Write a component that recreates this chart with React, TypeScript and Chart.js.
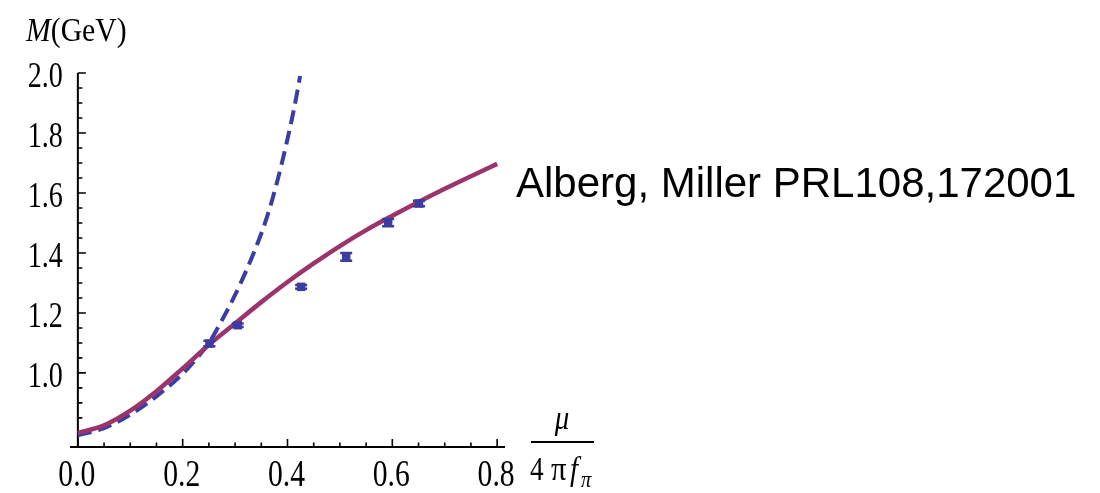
import React, { useEffect, useRef } from "react";
import { Chart, registerables } from "chart.js";

Chart.register(...registerables);

// ---- data ----
const solidX = [0, 0.05, 0.1, 0.15, 0.2, 0.25, 0.3, 0.35, 0.4, 0.45, 0.5, 0.55, 0.6, 0.65, 0.7, 0.75, 0.8];
const solidY = [0.8, 0.825, 0.874, 0.939, 1.015, 1.094, 1.165, 1.236, 1.303, 1.365, 1.423, 1.476, 1.524, 1.57, 1.614, 1.656, 1.697];

const dashX = [0, 0.05, 0.1, 0.15, 0.2, 0.225, 0.25, 0.275, 0.3, 0.325, 0.35, 0.36, 0.37, 0.38, 0.39, 0.4, 0.41, 0.42, 0.424];
const dashY = [0.792, 0.816, 0.861, 0.922, 0.997, 1.045, 1.1, 1.176, 1.26, 1.356, 1.465, 1.515, 1.572, 1.636, 1.705, 1.78, 1.86, 1.95, 1.99];

const pointsX = [0.251, 0.305, 0.426, 0.512, 0.592, 0.651];
const pointsY = [1.098, 1.159, 1.287, 1.387, 1.501, 1.565];
const pointsErr = [0.009, 0.006, 0.006, 0.013, 0.012, 0.009];

const xTickValues = [0, 0.2, 0.4, 0.6, 0.8];
const xTickLabels = ["0.0", "0.2", "0.4", "0.6", "0.8"];
const yTickValues = [1.0, 1.2, 1.4, 1.6, 1.8, 2.0];
const yTickLabels = ["1.0", "1.2", "1.4", "1.6", "1.8", "2.0"];

const annotationText = "Alberg, Miller PRL108,172001";

const X_MIN = -0.015;
const X_MAX = 0.815;
const Y_MIN = 0.753;
const Y_MAX = 2.0;

const SOLID_COLOR = "rgb(156, 52, 108)";
const BLUE = "rgb(60, 60, 162)";

function drawScaledText(
  ctx: CanvasRenderingContext2D,
  text: string,
  x: number,
  y: number,
  font: string,
  align: CanvasTextAlign,
  sx: number
) {
  ctx.save();
  ctx.translate(x, y);
  ctx.scale(sx, 1);
  ctx.font = font;
  ctx.textAlign = align;
  ctx.textBaseline = "alphabetic";
  ctx.fillStyle = "#000";
  ctx.fillText(text, 0, 0);
  ctx.restore();
}

const axesPlugin = {
  id: "mmaAxes",
  beforeDatasetsDraw(chart: any) {
    const ctx: CanvasRenderingContext2D = chart.ctx;
    const xs = chart.scales.x;
    const ys = chart.scales.y;
    const area = chart.chartArea;
    const x0 = xs.getPixelForValue(0);
    const yb = area.bottom;
    ctx.save();
    ctx.strokeStyle = "#000";
    ctx.lineWidth = 2;
    ctx.beginPath();
    ctx.moveTo(area.left, yb);
    ctx.lineTo(area.right, yb);
    ctx.moveTo(x0, yb + 1);
    ctx.lineTo(x0, ys.getPixelForValue(Y_MAX));
    ctx.stroke();

    // x ticks
    ctx.lineWidth = 1.6;
    ctx.beginPath();
    for (let i = 0; i <= 16; i++) {
      const v = i * 0.05;
      const px = xs.getPixelForValue(v);
      const major = i % 4 === 0;
      ctx.moveTo(px, yb);
      ctx.lineTo(px, yb - (major ? 8 : 4.5));
    }
    // y ticks
    for (let i = 16; i <= 40; i++) {
      const v = i * 0.05;
      const py = ys.getPixelForValue(v);
      const major = i % 4 === 0 && v >= 0.99;
      ctx.moveTo(x0, py);
      ctx.lineTo(x0 + (major ? 8 : 4.5), py);
    }
    ctx.stroke();
    ctx.restore();

    // tick labels
    xTickValues.forEach((v, i) => {
      const px = xs.getPixelForValue(v);
      drawScaledText(ctx, xTickLabels[i], px - 1, yb + 39, "38px 'Liberation Serif'", "center", 0.78);
    });
    yTickValues.forEach((v, i) => {
      const py = ys.getPixelForValue(v);
      drawScaledText(ctx, yTickLabels[i], x0 - 15, py + 14, "36px 'Liberation Serif'", "right", 0.78);
    });

    // y axis title: M(GeV)
    ctx.save();
    ctx.fillStyle = "#000";
    ctx.translate(26, 41);
    ctx.scale(0.9, 1);
    ctx.textBaseline = "alphabetic";
    ctx.textAlign = "left";
    ctx.font = "italic 33px 'Liberation Serif'";
    ctx.fillText("M", 0, 0);
    const mw = ctx.measureText("M").width;
    ctx.font = "33px 'Liberation Serif'";
    ctx.fillText("(GeV)", mw, 0);
    ctx.restore();

    // x axis title: fraction mu / (4 pi f_pi)
    ctx.save();
    ctx.fillStyle = "#000";
    ctx.textBaseline = "alphabetic";
    ctx.fillRect(531, 441, 63, 2);
    drawScaledText(ctx, "μ", 562, 429, "italic 34px 'Liberation Serif'", "center", 0.85);
    drawScaledText(ctx, "4", 530, 480, "34px 'Liberation Serif'", "left", 0.8);
    drawScaledText(ctx, "π", 551, 480, "34px 'Liberation Serif'", "left", 0.9);
    drawScaledText(ctx, "f", 570, 480, "italic 34px 'Liberation Serif'", "left", 0.85);
    drawScaledText(ctx, "π", 581, 487, "italic 24px 'Liberation Serif'", "left", 0.85);

    // annotation
    ctx.font = "42px 'Liberation Sans'";
    ctx.textAlign = "left";
    ctx.fillText(annotationText, 516, 197);
    ctx.restore();
  },
  afterDatasetsDraw(chart: any) {
    const ctx: CanvasRenderingContext2D = chart.ctx;
    const xs = chart.scales.x;
    const ys = chart.scales.y;
    ctx.save();
    ctx.strokeStyle = BLUE;
    ctx.lineWidth = 2.5;
    ctx.beginPath();
    pointsX.forEach((xv, i) => {
      const px = xs.getPixelForValue(xv);
      const pt = ys.getPixelForValue(pointsY[i] + pointsErr[i]);
      const pb = ys.getPixelForValue(pointsY[i] - pointsErr[i]);
      ctx.moveTo(px, pt);
      ctx.lineTo(px, pb);
      ctx.moveTo(px - 6, pt);
      ctx.lineTo(px + 6, pt);
      ctx.moveTo(px - 6, pb);
      ctx.lineTo(px + 6, pb);
    });
    ctx.stroke();
    ctx.restore();
  },
};

export default function App() {
  const ref = useRef<HTMLCanvasElement | null>(null);

  useEffect(() => {
    if (!ref.current) return;
    const chart = new Chart(ref.current, {
      type: "line",
      data: {
        datasets: [
          {
            label: "lattice",
            data: pointsX.map((x, i) => ({ x, y: pointsY[i] })),
            showLine: false,
            pointStyle: "rect",
            pointRadius: 6,
            backgroundColor: BLUE,
            borderColor: BLUE,
            borderWidth: 0,
            order: 0,
          } as any,
          {
            label: "model",
            data: solidX.map((x, i) => ({ x, y: solidY[i] })),
            borderColor: SOLID_COLOR,
            borderWidth: 4.5,
            pointRadius: 0,
            cubicInterpolationMode: "monotone",
            fill: false,
            order: 1,
          },
          {
            label: "chiral",
            data: dashX.map((x, i) => ({ x, y: dashY[i] })),
            borderColor: BLUE,
            borderWidth: 4,
            borderDash: [14, 7],
            pointRadius: 0,
            cubicInterpolationMode: "monotone",
            fill: false,
            order: 2,
          },
        ],
      },
      options: {
        responsive: false,
        animation: false,
        layout: { padding: { left: 70, top: 73, right: 595, bottom: 46 } },
        scales: {
          x: { type: "linear", min: X_MIN, max: X_MAX, display: false },
          y: { type: "linear", min: Y_MIN, max: Y_MAX, display: false },
        },
        plugins: {
          legend: { display: false },
          tooltip: { enabled: false },
        },
      },
      plugins: [axesPlugin],
    });
    return () => chart.destroy();
  }, []);

  return (
    <div style={{ position: "fixed", left: 0, top: 0, width: 1100, height: 493, background: "#fff" }}>
      <canvas ref={ref} width={1100} height={493} style={{ width: 1100, height: 493, display: "block" }} />
    </div>
  );
}
